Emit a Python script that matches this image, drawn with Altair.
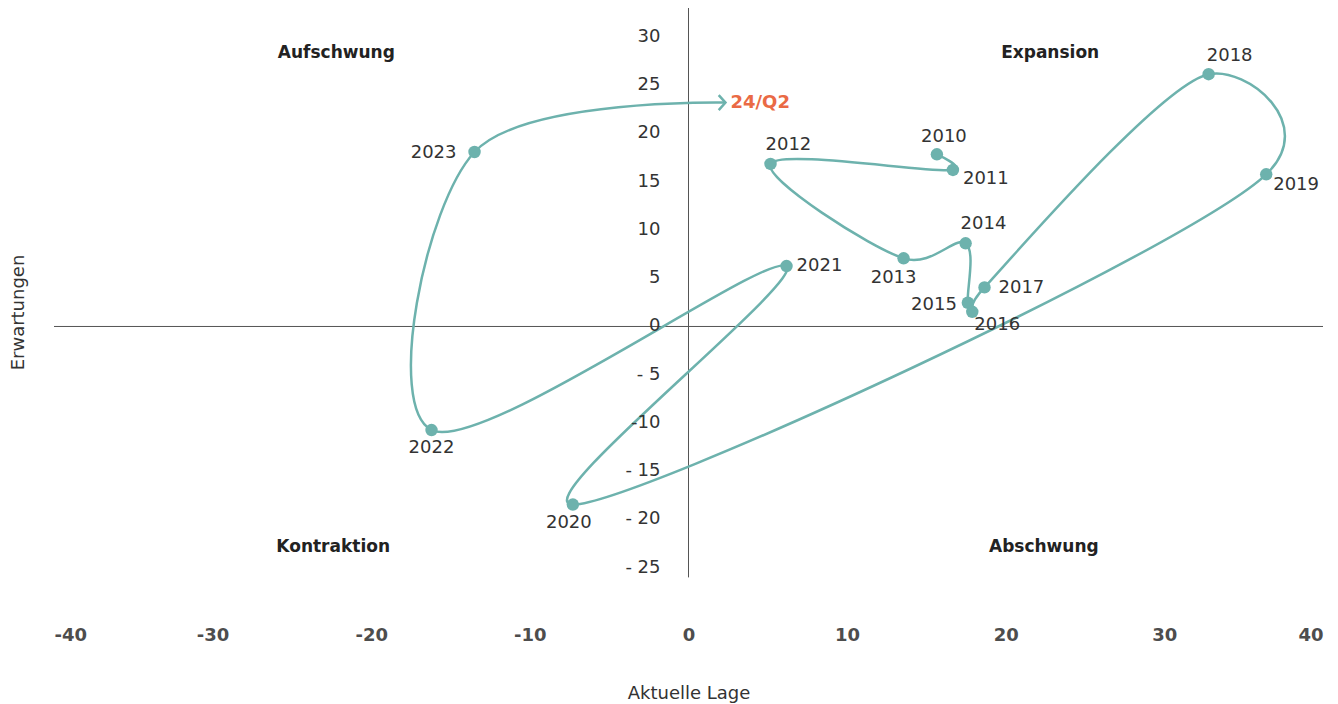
import altair as alt
import pandas as pd

# ---- data ----
LABELS = ["2010", "2011", "2012", "2013", "2014", "2015", "2016", "2017",
          "2018", "2019", "2020", "2021", "2022", "2023", "24/Q2"]
LAGE = [15.66, 16.67, 5.17, 13.56, 17.47, 17.61, 17.89, 18.66,
        32.79, 36.42, -7.29, 6.18, -16.2, -13.49, 2.33]
ERWARTUNGEN = [17.84, 16.22, 16.84, 7.06, 8.62, 2.46, 1.52, 4.05,
               26.14, 15.77, -18.45, 6.26, -10.73, 18.08, 23.2]

X_TICKS = [-40, -30, -20, -10, 0, 10, 20, 30, 40]
Y_TICKS = [30, 25, 20, 15, 10, 5, 0, -5, -10, -15, -20, -25]
Y_TICK_LABELS = ["30", "25", "20", "15", "10", "5", "0", "- 5", "-10", "- 15", "- 20", "- 25"]

QUADRANTS = ["Aufschwung", "Expansion", "Kontraktion", "Abschwung"]
Q_X = [-22.2, 22.8, -22.4, 22.4]
Q_Y = [28.3, 28.3, -22.9, -22.9]

# label placement (style): align, dx, dy
PLACE = {
    "2010": ("center", 7, -17),
    "2011": ("left", 10, 9),
    "2012": ("left", -5, -19),
    "2013": ("center", -10, 20),
    "2014": ("left", -5, -19),
    "2015": ("right", -11, 2),
    "2016": ("left", 2, 13),
    "2017": ("left", 14, 1),
    "2018": ("center", 21, -18),
    "2019": ("left", 7, 11),
    "2020": ("center", -4, 18),
    "2021": ("left", 10, 0),
    "2022": ("center", 0, 18),
    "2023": ("right", -18, 1),
    "24/Q2": ("left", 5, 0),
}

TEAL = "#6db2ad"
ORANGE = "#ea6a45"
FONT = "DejaVu Sans"

df = pd.DataFrame({"label": LABELS, "x": LAGE, "y": ERWARTUNGEN, "order": list(range(len(LABELS)))})
ticks_df = pd.DataFrame({"v": Y_TICKS, "t": Y_TICK_LABELS, "x0": [0] * len(Y_TICKS)})
quad_df = pd.DataFrame({"name": QUADRANTS, "x": Q_X, "y": Q_Y})

xscale = alt.Scale(domain=[-40, 40], nice=False, zero=False)
yscale = alt.Scale(domain=[-30, 33], nice=False, zero=False)

X = alt.X("x:Q", scale=xscale,
          axis=alt.Axis(values=X_TICKS, labelExpr="'' + datum.value", domain=False, ticks=False,
                        grid=False, labelFontSize=18, labelFontWeight="bold", labelColor="#4d4d4d",
                        labelFont=FONT, labelPadding=10, title="Aktuelle Lage", titleFont=FONT,
                        titleFontSize=18, titleFontWeight="normal", titleColor="#333333",
                        titlePadding=40))
Y = alt.Y("y:Q", scale=yscale,
          axis=alt.Axis(labels=False, domain=False, ticks=False, grid=False, title="Erwartungen",
                        titleFont=FONT, titleFontSize=18, titleFontWeight="normal",
                        titleColor="#333333", titlePadding=27))

base = alt.Chart(df)

# catmull-rom: in Vega the tension property sets the spline's alpha
line = base.mark_line(interpolate="catmull-rom", tension=0.2, color=TEAL, strokeWidth=2.5).encode(
    x=X, y=Y, order="order:Q")

pts = base.transform_filter("datum.label != '24/Q2'").mark_point(
    filled=True, color=TEAL, size=155, opacity=1).encode(x="x:Q", y="y:Q")

arrow = base.transform_filter("datum.label == '24/Q2'").mark_point(
    shape="M -0.9 -1 L 0 0 L -0.9 1", filled=False, color=TEAL, size=225,
    strokeWidth=2.5, opacity=1).encode(x="x:Q", y="y:Q")

# axes cross lines
hrule = alt.Chart(pd.DataFrame({"a": [-40], "b": [40], "c": [0]})).mark_rule(
    color="#555555", strokeWidth=1).encode(x="a:Q", x2="b:Q", y="c:Q")
vrule = alt.Chart(pd.DataFrame({"a": [0], "b": [-26], "c": [33]})).mark_rule(
    color="#555555", strokeWidth=1).encode(x="a:Q", y="b:Q", y2="c:Q")

ytext = alt.Chart(ticks_df).mark_text(
    align="right", baseline="middle", dx=-28, fontSize=18, font=FONT, color="#333333").encode(
    x="x0:Q", y="v:Q", text="t:N")

quad = alt.Chart(quad_df).mark_text(
    align="center", baseline="middle", fontSize=17, fontWeight="bold", font=FONT,
    color="#222222").encode(x="x:Q", y="y:Q", text="name:N")

label_layers = []
for lab in LABELS:
    al, dx, dy = PLACE[lab]
    is_end = lab == "24/Q2"
    label_layers.append(
        base.transform_filter(alt.datum.label == lab).mark_text(
            align=al, baseline="middle", dx=dx, dy=dy, fontSize=18, font=FONT,
            fontWeight="bold" if is_end else "normal",
            color=ORANGE if is_end else "#333333").encode(x="x:Q", y="y:Q", text="label:N")
    )

chart = alt.layer(hrule, vrule, line, pts, arrow, ytext, quad, *label_layers).properties(
    width=1269, height=608,
    autosize=alt.AutoSizeParams(type="none"),
    padding={"left": 54, "top": 8, "right": 15, "bottom": 88},
    background="white",
).configure_view(stroke=None)

chart.save("out.html", embed_options={"renderer": "svg", "actions": False})
